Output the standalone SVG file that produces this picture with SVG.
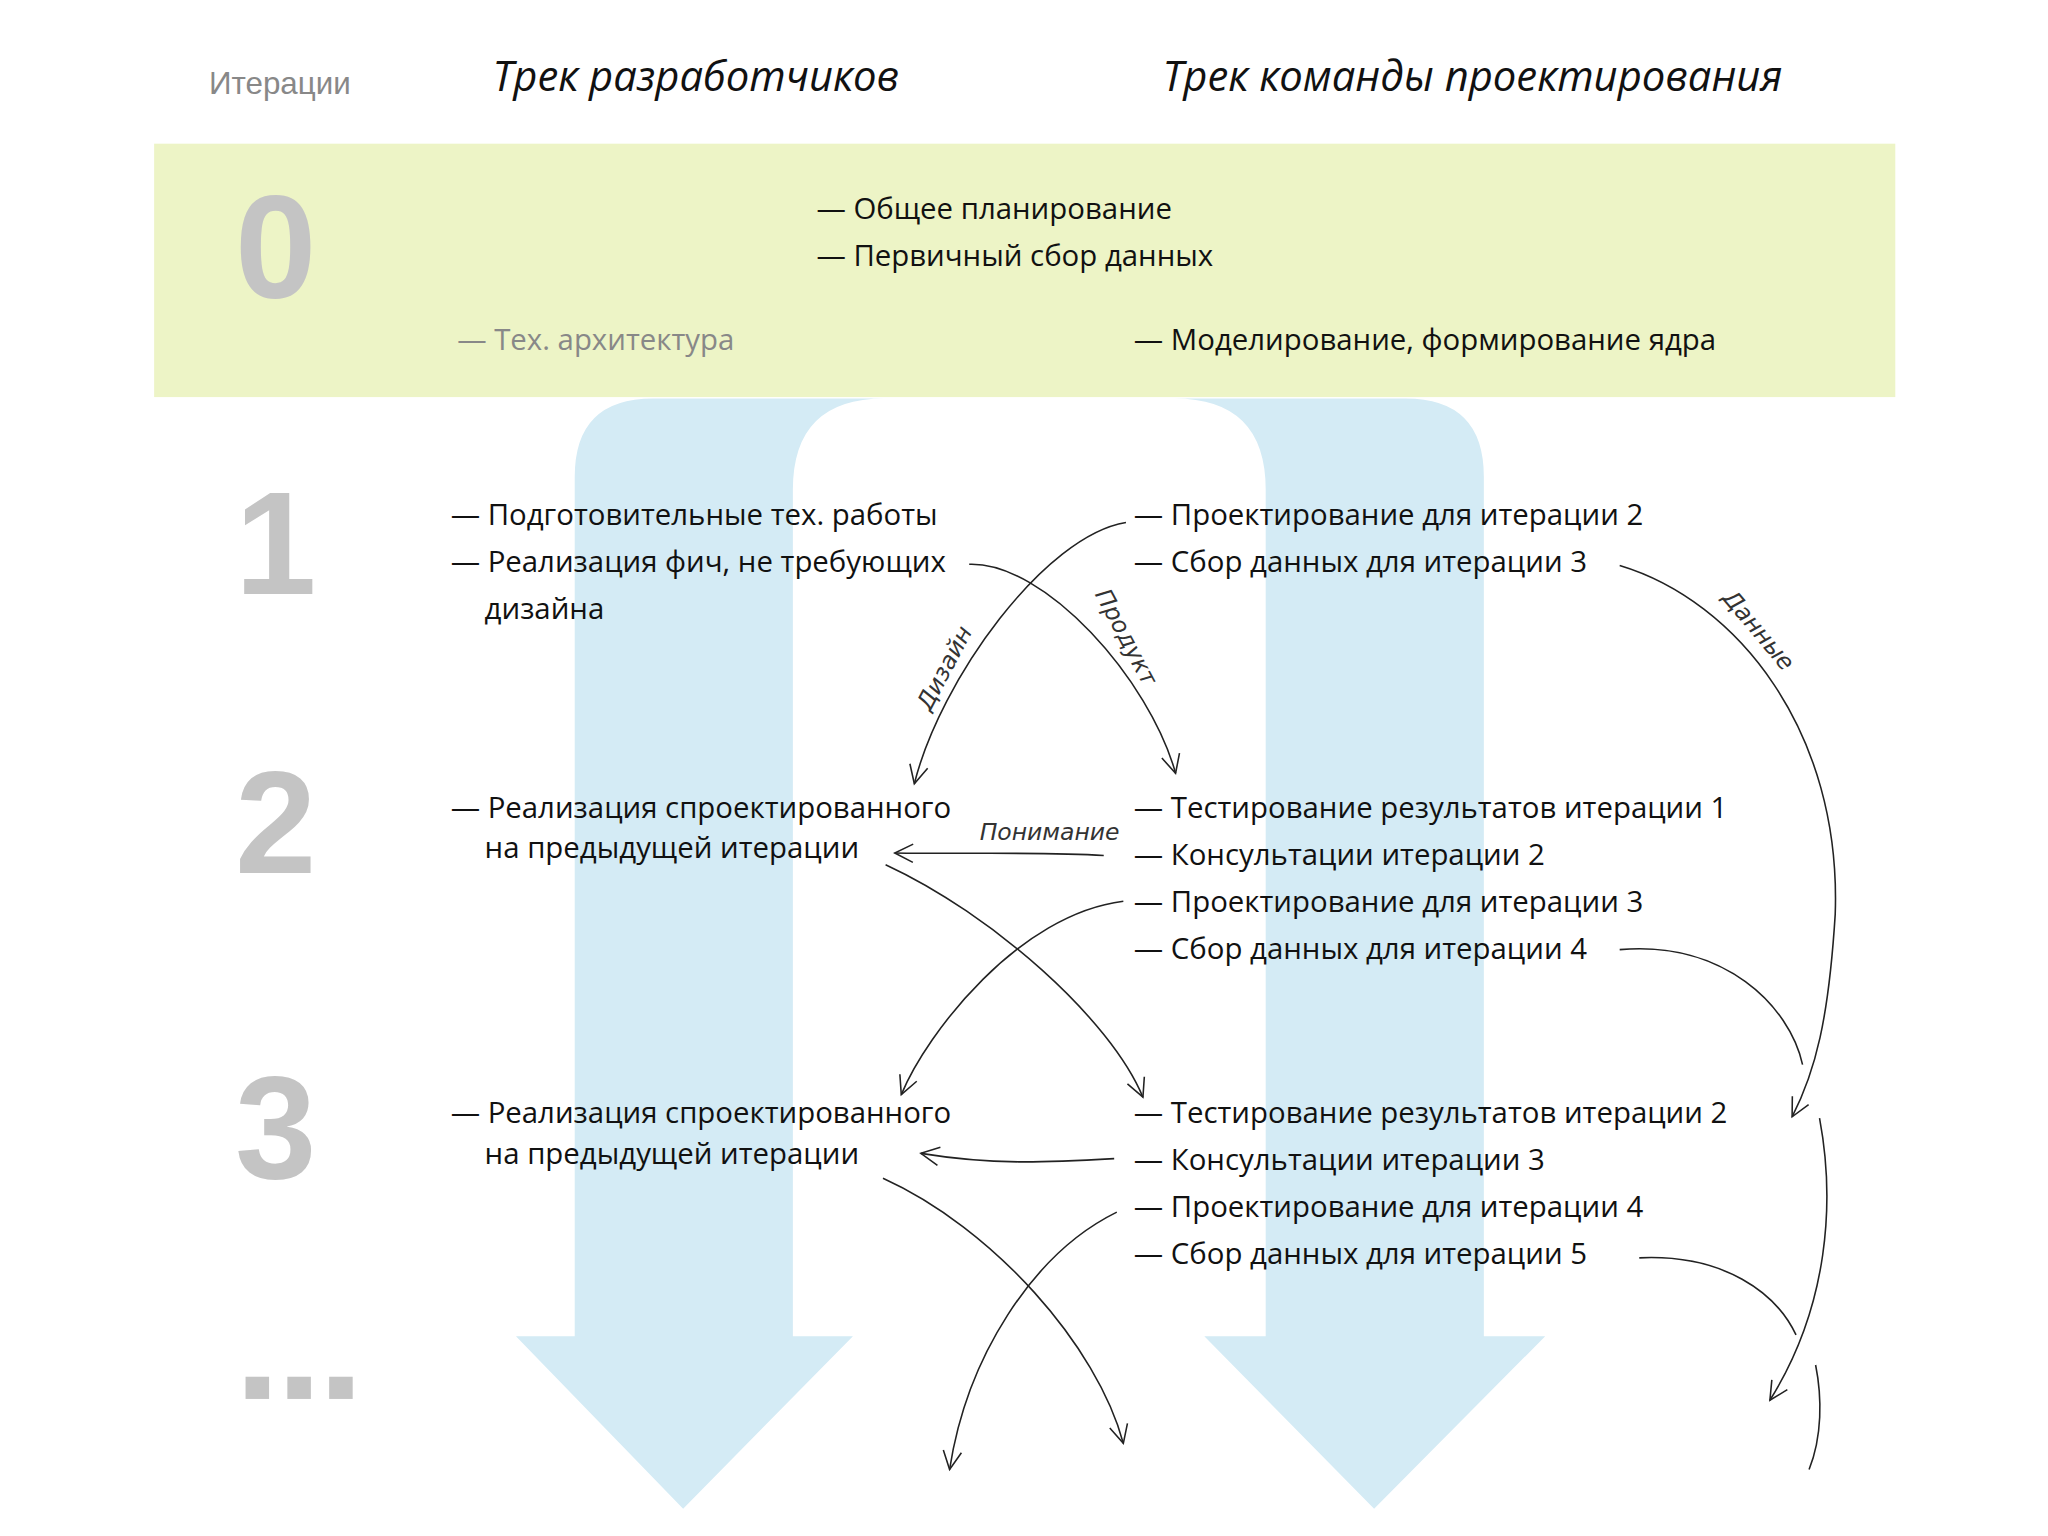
<svg xmlns="http://www.w3.org/2000/svg" width="2048" height="1536" viewBox="0 0 2048 1536">
<style>
.t{font-family:"Open Sans","DejaVu Sans",sans-serif;font-size:22.5px;fill:#111}
.g{fill:#888}
.h{font-family:"Open Sans","DejaVu Sans",sans-serif;font-size:32px;font-style:italic;fill:#111}
.n{font-family:"Liberation Sans",Arial,sans-serif;font-weight:bold;font-size:112px;fill:#c4c4c4}
.c{fill:none;stroke:#222;stroke-width:1.2}
.l{font-family:"DejaVu Sans",sans-serif;font-size:18px;font-style:italic;fill:#333}
</style>
<defs>
<marker id="a" markerWidth="20" markerHeight="20" refX="16" refY="8" orient="auto" markerUnits="userSpaceOnUse">
<path d="M2,1 L16,8 L2,15" fill="none" stroke="#222" stroke-width="1.2"/>
</marker>
</defs>
<rect width="2048" height="1536" fill="#fff"/>
<g transform="scale(1.3062)">
<g id="flow">
<path d="M440,1023 V365 Q440,305 500,305 H1076 Q1136,305 1136,365 V1023 H1183 L1052,1155 L922,1023 H969 V375 Q969,305 899,305 H677 Q607,305 607,375 V1023 H653 L523,1155 L395,1023 Z" fill="#d4ebf5"/>
</g>
<g id="band"><rect x="118" y="110" width="1333" height="194" fill="#edf4c6"/></g>
<g id="headers">
<text x="160" y="72" style="font-family:'Liberation Sans',Arial,sans-serif;font-size:24px;fill:#888">Итерации</text>
<text x="377" y="70" class="h">Трек разработчиков</text>
<text x="890" y="70" class="h">Трек команды проектирования</text>
</g>
<g id="iter0">
<text x="180" y="228" class="n">0</text>
<text x="625" y="168" class="t">— Общее планирование</text>
<text x="625" y="204" class="t">— Первичный сбор данных</text>
<text x="350" y="268" class="t g">— Тех. архитектура</text>
<text x="868" y="268" class="t">— Моделирование, формирование ядра</text>
</g>
<g id="iter1">
<text x="180" y="455" class="n">1</text>
<text x="345" y="402" class="t">— Подготовительные тех. работы</text>
<text x="345" y="438" class="t">— Реализация фич, не требующих</text>
<text x="371" y="474" class="t">дизайна</text>
<text x="868" y="402" class="t">— Проектирование для итерации 2</text>
<text x="868" y="438" class="t">— Сбор данных для итерации 3</text>
</g>
<g id="iter2">
<text x="180" y="668" class="n">2</text>
<text x="345" y="626" class="t">— Реализация спроектированного</text>
<text x="371" y="657" class="t">на предыдущей итерации</text>
<text x="868" y="626" class="t">— Тестирование результатов итерации 1</text>
<text x="868" y="662" class="t">— Консультации итерации 2</text>
<text x="868" y="698" class="t">— Проектирование для итерации 3</text>
<text x="868" y="734" class="t">— Сбор данных для итерации 4</text>
</g>
<g id="iter3">
<text x="180" y="902" class="n">3</text>
<text x="345" y="860" class="t">— Реализация спроектированного</text>
<text x="371" y="891" class="t">на предыдущей итерации</text>
<text x="868" y="860" class="t">— Тестирование результатов итерации 2</text>
<text x="868" y="896" class="t">— Консультации итерации 3</text>
<text x="868" y="932" class="t">— Проектирование для итерации 4</text>
<text x="868" y="968" class="t">— Сбор данных для итерации 5</text>
</g>
<g id="more" fill="#c4c4c4">
<rect x="188" y="1054" width="18" height="17"/><rect x="220" y="1054" width="18" height="17"/><rect x="252" y="1054" width="18" height="17"/>
</g>
<g id="connectors">
<path class="c" d="M862,400 C800,410 720,520 700,600" marker-end="url(#a)"/>
<path class="c" d="M742,432 C800,430 880,520 900,592" marker-end="url(#a)"/>
<path class="c" d="M1240,433 C1330,460 1410,560 1405,700 C1400,780 1390,820 1372,855" marker-end="url(#a)"/>
<path class="c" d="M845,655 C800,652 740,654 685,653" marker-end="url(#a)"/>
<path class="c" d="M678,662 C760,700 850,780 875,840" marker-end="url(#a)"/>
<path class="c" d="M860,690 C780,700 710,790 690,838" marker-end="url(#a)"/>
<path class="c" d="M1240,727 C1320,720 1370,770 1380,815"/>
<path class="c" d="M1393,856 C1405,920 1400,1000 1355,1072" marker-end="url(#a)"/>
<path class="c" d="M1255,963 C1320,960 1360,990 1375,1022"/>
<path class="c" d="M1390,1045 C1395,1070 1395,1100 1385,1125"/>
<path class="c" d="M853,887 C800,890 760,892 705,883" marker-end="url(#a)"/>
<path class="c" d="M676,902 C760,940 840,1030 860,1105" marker-end="url(#a)"/>
<path class="c" d="M855,928 C790,960 740,1040 727,1125" marker-end="url(#a)"/>
<text class="l" transform="translate(712,545) rotate(-62)">Дизайн</text>
<text class="l" transform="translate(838,455) rotate(62)">Продукт</text>
<text class="l" transform="translate(1318,458) rotate(50)">Данные</text>
<text class="l" x="750" y="643">Понимание</text>
</g>
</g>
</svg>
